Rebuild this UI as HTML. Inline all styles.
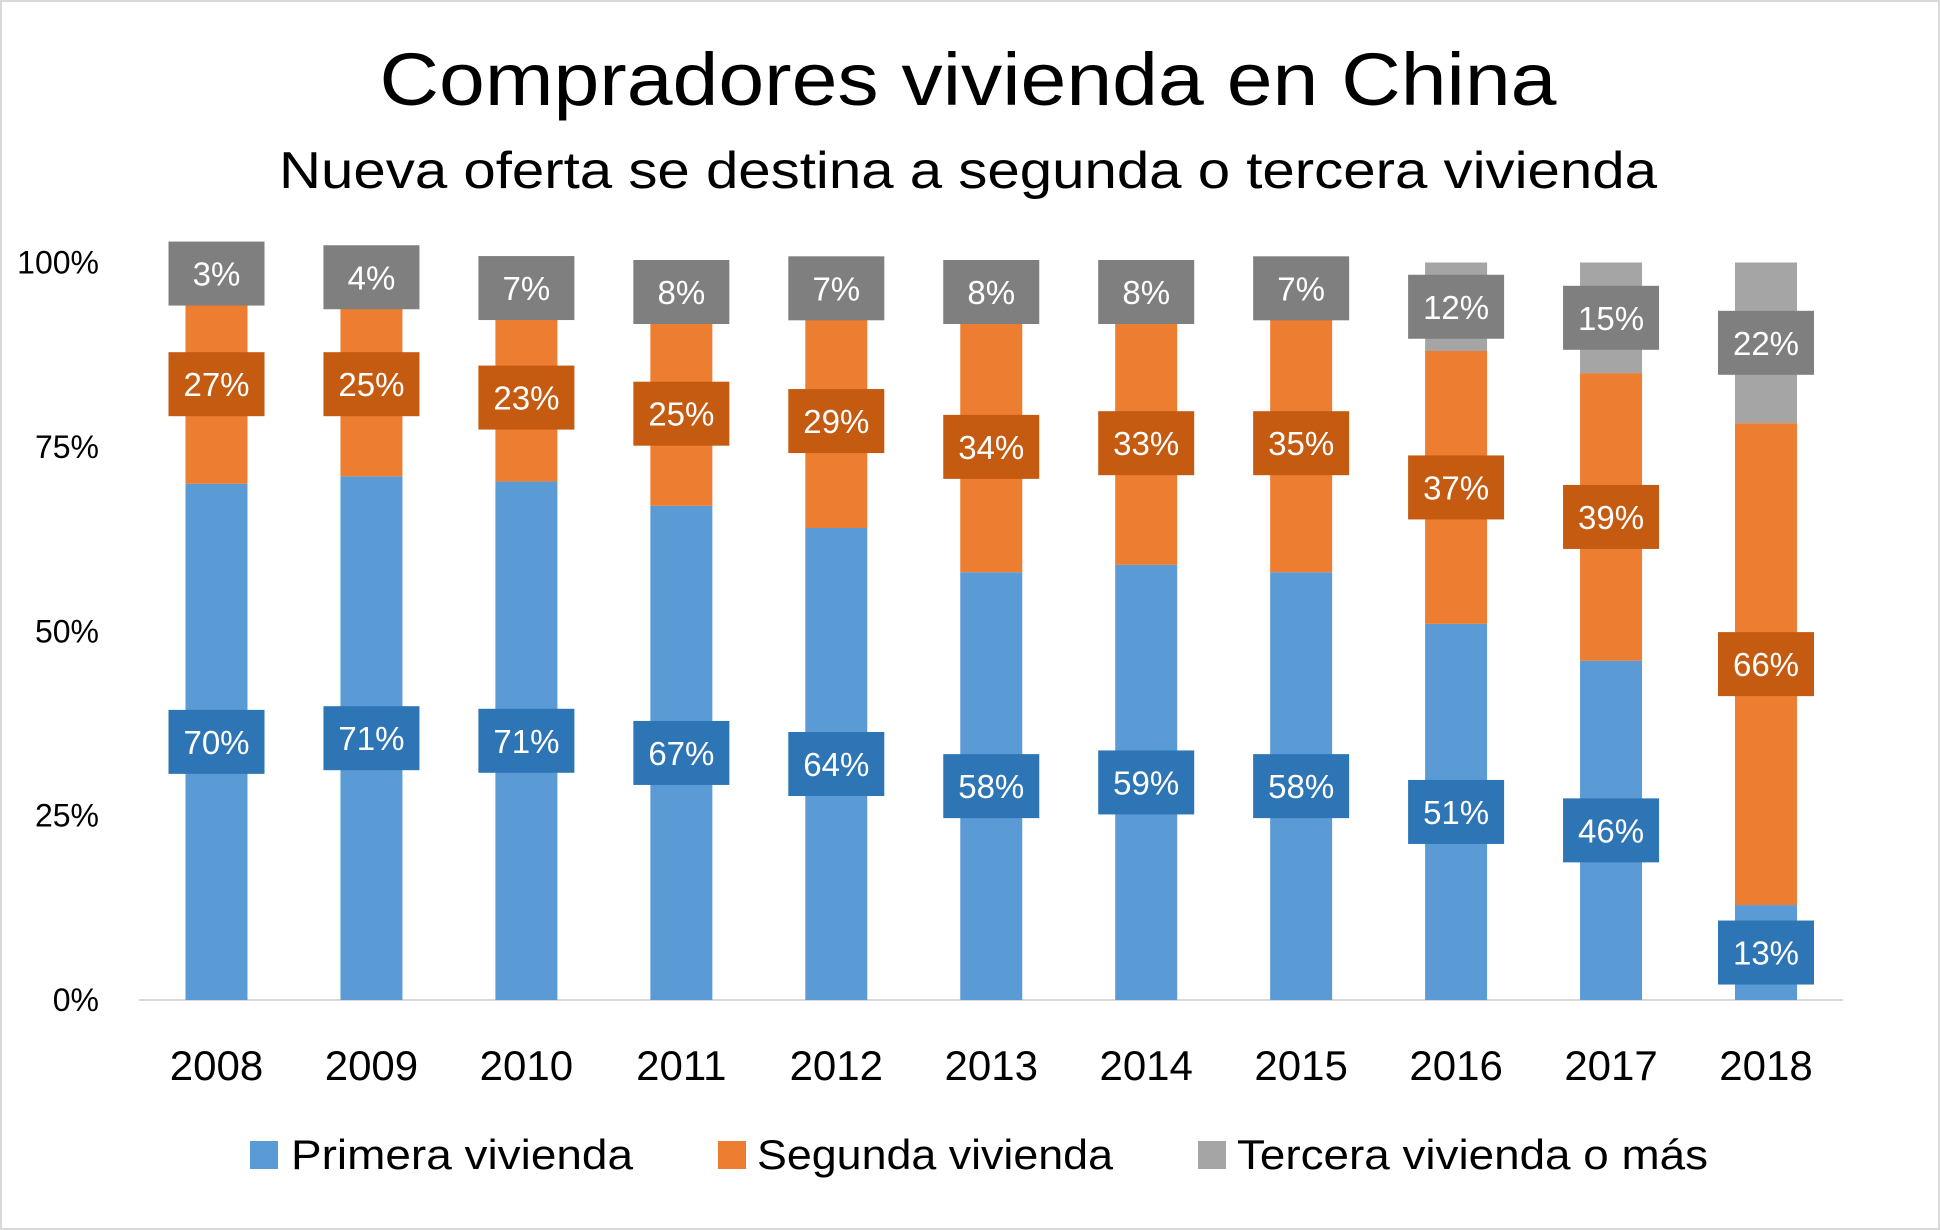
<!DOCTYPE html>
<html><head><meta charset="utf-8"><title>Compradores vivienda en China</title>
<style>
html,body{margin:0;padding:0;background:#fff;}
svg{display:block;font-family:"Liberation Sans",sans-serif;}
</style></head>
<body>
<svg id="chart" width="1940" height="1230" viewBox="0 0 1940 1230">
<rect x="1" y="1" width="1938" height="1228" fill="#fff" stroke="#d9d9d9" stroke-width="2"/>
<text x="968" y="105" text-anchor="middle" font-size="74" fill="#000" textLength="1177" lengthAdjust="spacingAndGlyphs">Compradores vivienda en China</text>
<text x="968" y="188" text-anchor="middle" font-size="52" fill="#000" textLength="1378" lengthAdjust="spacingAndGlyphs">Nueva oferta se destina a segunda o tercera vivienda</text>
<g id="yaxis"></g>
<g id="bars"></g>
<g id="labels"></g>
<g id="xaxis"></g>
<g>
 <g>
  <rect x="250" y="1141" width="28" height="28" fill="#5b9bd5"/>
  <text x="291" y="1169" font-size="42" fill="#000" textLength="342" lengthAdjust="spacingAndGlyphs">Primera vivienda</text>
 </g>
 <g>
  <rect x="718" y="1141" width="28" height="28" fill="#ed7d31"/>
  <text x="757" y="1169" font-size="42" fill="#000" textLength="356" lengthAdjust="spacingAndGlyphs">Segunda vivienda</text>
 </g>
 <g>
  <rect x="1198" y="1141" width="28" height="28" fill="#a5a5a5"/>
  <text x="1237" y="1169" font-size="42" fill="#000" textLength="471" lengthAdjust="spacingAndGlyphs">Tercera vivienda o más</text>
 </g>
</g>
</svg>
<script>
const years = ["2008","2009","2010","2011","2012","2013","2014","2015","2016","2017","2018"];
const primera = [70,71,71,67,64,58,59,58,51,46,13];
const segunda = [27,25,23,25,29,34,33,35,37,39,66];
const tercera = [3,4,7,8,7,8,8,7,12,15,22];
const yTicks = [0,25,50,75,100];

const NS="http://www.w3.org/2000/svg";
const y0=1000, y100=262.5;
const yScale=v=>y0-(y0-y100)*v/100;
const xStart=216.5, xStep=154.95;
const xScale=i=>xStart+i*xStep;
const barW=62;
function mk(tag,attrs,parent){const e=document.createElementNS(NS,tag);for(const k in attrs)e.setAttribute(k,attrs[k]);parent.appendChild(e);return e;}

const yaxis=document.getElementById('yaxis');
yTicks.forEach(t=>{
  const tx=mk('text',{x:99,y:yScale(t)+11,'text-anchor':'end','font-size':32,fill:'#000'},yaxis);
  tx.textContent=t+'%';
  
  
});
const axl=mk('line',{x1:139,x2:1843,y1:y0,y2:y0,stroke:'#d9d9d9','stroke-width':2},yaxis);



const bars=document.getElementById('bars'), labels=document.getElementById('labels'), xaxis=document.getElementById('xaxis');
const series=[{d:primera,c:'#5b9bd5',lc:'#2e75b6',n:'primera'},{d:segunda,c:'#ed7d31',lc:'#c55a11',n:'segunda'},{d:tercera,c:'#a5a5a5',lc:'#7f7f7f',n:'tercera'}];
years.forEach((yr,i)=>{
  const cx=xScale(i);
  const total=primera[i]+segunda[i]+tercera[i];
  const k=100/total;
  let base=0;
  series.forEach(s=>{
    const v=s.d[i]*k;
    const r=mk('rect',{x:cx-barW/2,y:yScale(base+v),width:barW,height:yScale(base)-yScale(base+v),fill:s.c},bars);
    
    
    base+=v;
  });
  base=0;
  series.forEach(s=>{
    const v=s.d[i]*k;
    const my=yScale(base+v/2);
    const g=mk('g',{},labels);
    
    
    mk('rect',{x:cx-48,y:my-32,width:96,height:64,fill:s.lc},g);
    const t=mk('text',{x:cx,y:my+12,'text-anchor':'middle','font-size':33,fill:'#fff'},g);
    t.textContent=s.d[i]+'%';
    base+=v;
  });
  const xl=mk('text',{x:cx,y:1080,'text-anchor':'middle','font-size':42,fill:'#000'},xaxis);
  xl.textContent=yr;
  
  
});
</script>
</body></html>
